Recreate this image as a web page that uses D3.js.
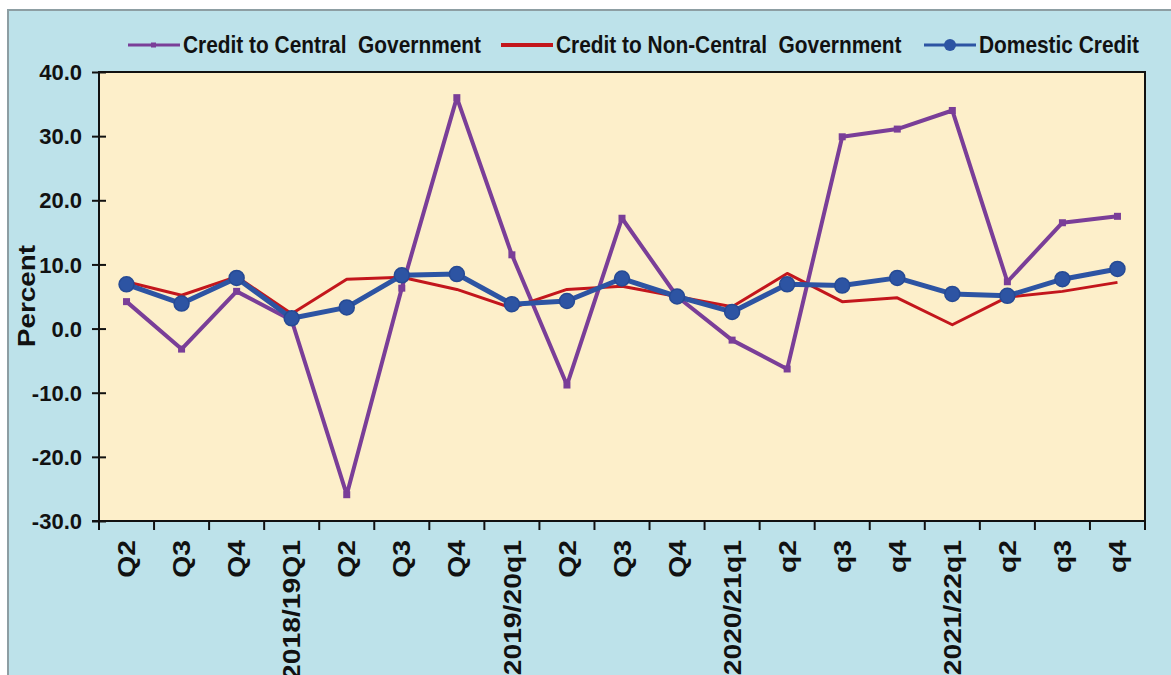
<!DOCTYPE html>
<html>
<head>
<meta charset="utf-8">
<script src="https://cdn.jsdelivr.net/npm/d3@7"></script>
<style>
  html, body { margin: 0; padding: 0; background: #ffffff; }
  svg { display: block; }
  text { font-family: "Liberation Sans", Arial, Helvetica, sans-serif; font-weight: bold; fill: #111; }
</style>
</head>
<body>
<script>
// Quarterly growth of credit, percent
const categories = ["Q2", "Q3", "Q4", "2018/19Q1", "Q2", "Q3", "Q4", "2019/20q1", "Q2", "Q3", "Q4",
                    "2020/21q1", "q2", "q3", "q4", "2021/22q1", "q2", "q3", "q4"];
const centralGov = [4.2, -3.2, 5.8, 1.3, -25.9, 6.3, 36.0, 11.5, -8.8, 17.2, 5.0,
                    -1.8, -6.3, 29.9, 31.1, 34.0, 7.3, 16.5, 17.5];
const nonCentralGov = [7.3, 5.2, 8.1, 2.3, 7.7, 8.0, 6.1, 3.2, 6.1, 6.6, 5.0,
                       3.4, 8.6, 4.2, 4.8, 0.6, 4.9, 5.8, 7.2];
const domesticCredit = [6.9, 3.9, 7.9, 1.6, 3.3, 8.3, 8.5, 3.8, 4.3, 7.8, 5.0,
                        2.6, 6.9, 6.7, 7.9, 5.4, 5.1, 7.7, 9.3];
const yTicks = [40, 30, 20, 10, 0, -10, -20, -30];
const seriesNames = ["Credit to Central  Government", "Credit to Non-Central  Government", "Domestic Credit"];

const W = 1171, H = 675;
const plot = { left: 99, right: 1145, top: 72, bottom: 521 };
const colors = { central: "#7a3e98", nonCentral: "#c3161c", domestic: "#2d54a3" };

const svg = d3.select("body").append("svg").attr("width", W).attr("height", H);

// outer panel
svg.append("rect").attr("x", 8).attr("y", 10).attr("width", W).attr("height", H)
  .attr("fill", "#bde2ea").attr("stroke", "#8d9ea3").attr("stroke-width", 2);

const idx = categories.map((_, i) => i);
const x = d3.scaleBand().domain(idx).range([plot.left, plot.right]).padding(0);
const y = d3.scaleLinear().domain([-30, 40]).range([plot.bottom, plot.top]);
const cx = i => x(i) + x.bandwidth() / 2;

// plot area
svg.append("rect").attr("x", plot.left).attr("y", plot.top)
  .attr("width", plot.right - plot.left).attr("height", plot.bottom - plot.top)
  .attr("fill", "#fdefca").attr("stroke", "#111").attr("stroke-width", 2);

// y axis: ticks crossing the axis line
const yAxis = svg.append("g").attr("transform", `translate(${plot.left},0)`)
  .call(d3.axisLeft(y).tickValues(yTicks).tickSize(7).tickFormat(d => d.toFixed(1)));
yAxis.select(".domain").remove();
yAxis.selectAll(".tick line").attr("x2", 7).attr("x1", -7).attr("stroke", "#111").attr("stroke-width", 2);
yAxis.selectAll(".tick text").attr("x", -17).attr("dy", "0.35em")
  .style("font-size", "22px").style("font-family", "'Liberation Sans', Arial, sans-serif")
  .style("font-weight", "bold").attr("fill", "#111");
svg.append("line").attr("x1", plot.left).attr("x2", plot.left)
  .attr("y1", plot.top).attr("y2", plot.bottom).attr("stroke", "#111").attr("stroke-width", 2);

// x axis: ticks between categories
const xAxisG = svg.append("g");
xAxisG.append("line").attr("x1", plot.left - 7).attr("x2", plot.right)
  .attr("y1", plot.bottom).attr("y2", plot.bottom).attr("stroke", "#111").attr("stroke-width", 2);
xAxisG.selectAll("line.tk").data(d3.range(categories.length + 1)).join("line").attr("class", "tk")
  .attr("x1", d => plot.left + d * x.bandwidth()).attr("x2", d => plot.left + d * x.bandwidth())
  .attr("y1", plot.bottom).attr("y2", plot.bottom + 9).attr("stroke", "#111").attr("stroke-width", 2);
xAxisG.selectAll("text").data(idx).join("text")
  .attr("transform", d => `translate(${cx(d)},${plot.bottom + 19}) rotate(-90) scale(1.18,1)`)
  .attr("text-anchor", "end").attr("dy", "0.36em")
  .style("font-size", "24px")
  .text(d => categories[d]);

// y axis title
svg.append("text")
  .attr("transform", `translate(26,296) rotate(-90) scale(1.16,1)`)
  .attr("text-anchor", "middle").attr("dy", "0.36em")
  .style("font-size", "24px").text("Percent");

const line = d3.line().x((d, i) => cx(i)).y(d => y(d));

// Credit to Central Government
svg.append("path").datum(centralGov).attr("d", line)
  .attr("fill", "none").attr("stroke", colors.central).attr("stroke-width", 4).attr("stroke-linejoin", "round");
svg.selectAll("rect.cg").data(centralGov).join("rect").attr("class", "cg")
  .attr("x", (d, i) => cx(i) - 3.5).attr("y", d => y(d) - 3.5)
  .attr("width", 7).attr("height", 7).attr("fill", colors.central);

// Credit to Non-Central Government
svg.append("path").datum(nonCentralGov).attr("d", line)
  .attr("fill", "none").attr("stroke", colors.nonCentral).attr("stroke-width", 3).attr("stroke-linejoin", "round");

// Domestic Credit
svg.append("path").datum(domesticCredit).attr("d", line)
  .attr("fill", "none").attr("stroke", colors.domestic).attr("stroke-width", 5).attr("stroke-linejoin", "round");
svg.selectAll("circle.dc").data(domesticCredit).join("circle").attr("class", "dc")
  .attr("cx", (d, i) => cx(i)).attr("cy", d => y(d)).attr("r", 7.5)
  .attr("fill", colors.domestic).attr("stroke", "#264a94").attr("stroke-width", 1.5);

// legend
const legend = svg.append("g");
const legendItems = [
  { name: seriesNames[0], color: colors.central, x0: 128, marker: "square", w: 3 },
  { name: seriesNames[1], color: colors.nonCentral, x0: 501, marker: null, w: 4 },
  { name: seriesNames[2], color: colors.domestic, x0: 924, marker: "circle", w: 3 }
];
legendItems.forEach(it => {
  const g = legend.append("g").attr("transform", `translate(${it.x0},45)`);
  g.append("line").attr("x1", 0).attr("x2", 52).attr("stroke", it.color).attr("stroke-width", it.w);
  if (it.marker === "square") {
    g.append("rect").attr("x", 23).attr("y", -2.5).attr("width", 5).attr("height", 5).attr("fill", it.color);
  } else if (it.marker === "circle") {
    g.append("circle").attr("cx", 26).attr("cy", 0).attr("r", 6).attr("fill", it.color);
  }
  g.append("text").attr("transform", "translate(55,8) scale(0.87,1)")
    .style("font-size", "24px").style("white-space", "pre").text(it.name);
});
</script>
</body>
</html>
